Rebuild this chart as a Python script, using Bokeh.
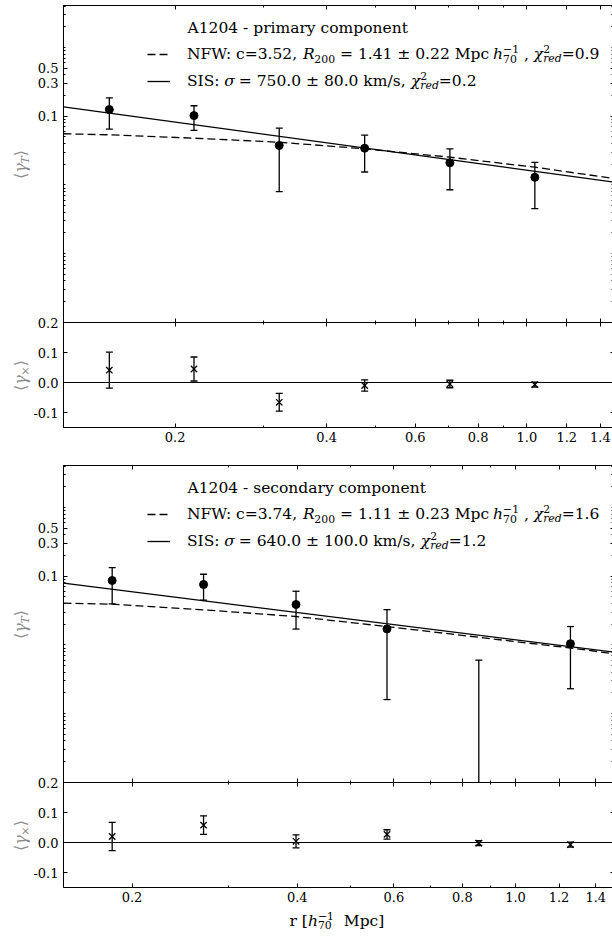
import math
from bokeh.plotting import figure
from bokeh.models import (Range1d, FixedTicker, PrintfTickFormatter, LogAxis, LinearAxis,
                          LinearScale, Label, Span, Legend, LegendItem)
from bokeh.layouts import column, row
from bokeh.embed import file_html
from bokeh.resources import INLINE

# ---------------- data ----------------
r_primary = [0.148, 0.218, 0.322, 0.476, 0.703, 1.037]
gamma_t_primary = [0.125, 0.102, 0.0375, 0.0342, 0.0210, 0.0129]
gamma_x_primary = [0.041, 0.045, -0.066, -0.010, -0.005, -0.007]
err_primary = [0.060, 0.040, 0.0295, 0.0188, 0.0125, 0.0084]

r_secondary = [0.184, 0.270, 0.398, 0.583, 0.857, 1.259]
gamma_t_secondary = [0.0866, 0.0757, 0.0387, 0.0171, -0.002, 0.0104]
gamma_x_secondary = [0.020, 0.058, 0.004, 0.027, -0.002, -0.007]
err_secondary = [0.047, 0.031, 0.0217, 0.0155, 0.0080, 0.0081]

nfw_r_primary = [0.12, 0.148, 0.218, 0.322, 0.476, 0.703, 1.037, 1.5]
nfw_primary = [0.0555, 0.0536, 0.0479, 0.0418, 0.0335, 0.0253, 0.0181, 0.0123]
sis_r_primary = [0.12, 1.5]
sis_primary = [0.1365, 0.0109]

nfw_r_secondary = [0.15, 0.184, 0.27, 0.398, 0.583, 0.857, 1.259, 1.5]
nfw_secondary = [0.0405, 0.0391, 0.0324, 0.0259, 0.0185, 0.0129, 0.0090, 0.0075]
sis_r_secondary = [0.15, 1.5]
sis_secondary = [0.0791, 0.0079]

x_major = [0.2, 0.4, 0.6, 0.8, 1.0, 1.2, 1.4]
x_minor = [0.3, 0.5, 0.7, 0.9]
yt_major = [0.1, 0.3, 0.5]
yx_major = [-0.1, 0.0, 0.1, 0.2]
T_FLOOR = 1e-4          # lower limit of the tangential-shear axis
X_LIMITS = [(0.12, 1.4794), (0.15, 1.502)]
CROSS_LIMITS = (-0.15, 0.2)

titles = ["A1204 - primary component", "A1204 - secondary component"]
nfw_c = ["3.52", "3.74"]
nfw_r200 = ["1.41", "1.11"]
nfw_r200_err = ["0.22", "0.23"]
nfw_chi2 = ["0.9", "1.6"]
sis_sigma = ["750.0", "640.0"]
sis_sigma_err = ["80.0", "100.0"]
sis_chi2 = ["0.2", "1.2"]

# ---------------- geometry / style ----------------
FONT = "DejaVu Serif"
GUTTER = 62
MAIN_W = 612 - GUTTER
FL = 63                      # page x of the frames' left edge
FRAME_H = 422                # tangential (317 px) + cross (105 px)
T_H = 317
DLOG = 68.7                  # px per decade on the tangential axis
PX_CROSS = 300.0             # px per unit on the cross axis
FS = 15.5
TICK_FS = "13px"
AX_COLOR = "#8a8a8a"

yt_minor = [k * 10.0 ** n for n in range(-4, 1) for k in range(1, 10)] + [2.0, 3.0, 4.0]
yt_minor = [v for v in yt_minor if all(abs(v - m) > 1e-9 for m in yt_major)]

EM = {' ': 0.318, '0': 0.636, '1': 0.636, '2': 0.636, '3': 0.636, '4': 0.636, '5': 0.636,
      '6': 0.636, '7': 0.636, '8': 0.636, '9': 0.636, '.': 0.318, ',': 0.318, ':': 0.337,
      '-': 0.338, '=': 0.838, '±': 0.838, '/': 0.337, '[': 0.39, ']': 0.39, '−': 0.838,
      'A': 0.722, 'C': 0.732, 'F': 0.685, 'I': 0.369, 'M': 0.954, 'N': 0.81, 'R': 0.74,
      'S': 0.674, 'W': 1.031, 'T': 0.67, 'a': 0.599, 'c': 0.563, 'd': 0.641, 'e': 0.592,
      'h': 0.646, 'i': 0.32, 'k': 0.623, 'm': 0.96, 'n': 0.646, 'o': 0.602, 'p': 0.641,
      'r': 0.479, 's': 0.516, 't': 0.402, 'y': 0.571, 'σ': 0.62, 'χ': 0.6, 'γ': 0.56,
      '⟨': 0.39, '⟩': 0.39, '×': 0.838}


def tw(s, size):
    return sum(EM.get(ch, 0.6) for ch in s) * size


def put(p, fl, fb, xp, yp, txt, size, style="normal", color="black", angle=0.0):
    p.add_layout(Label(x=xp - fl, y=fb - yp, x_units="screen", y_units="screen", text=txt,
                       text_font=FONT, text_font_size=f"{size:.2f}px", text_font_style=style,
                       text_color=color, text_align="left", text_baseline="middle",
                       angle=angle))


def chain(p, fl, fb, x0, ymid, items, size=FS):
    x = x0
    for item in items:
        adv = 0.0
        for txt, kind, style in item:
            s = size * 0.7 if kind in ("sub", "sup") else size
            dy = {"n": 0.0, "sub": 0.30 * size, "sup": -0.30 * size}[kind]
            lead = len(txt) - len(txt.lstrip(" "))
            core = txt.strip(" ")
            if core:
                put(p, fl, fb, x + lead * EM[' '] * s, ymid + dy, core, s, style)
            adv = max(adv, tw(txt, s))
        x += adv
    return x


def vchain(p, fl, fb, xmid, ycenter, items, size, color):
    total = sum(tw(t, size * 0.7 if k == "sub" else size) for t, k, _ in items)
    y = ycenter + total / 2
    for txt, kind, style in items:
        s = size * 0.7 if kind == "sub" else size
        dx = 0.30 * size if kind == "sub" else 0.0
        put(p, fl, fb, xmid + dx, y, txt, s, style, color, angle=math.pi / 2)
        y -= tw(txt, s)


def style_axis(ax, ticks, minor, labels, standoff=4, both=False, tick_in=4, minor_in=2,
               line=True):
    ax.ticker = FixedTicker(ticks=ticks, minor_ticks=minor)
    ax.major_tick_in = tick_in
    ax.major_tick_out = 4 if both else 0
    ax.minor_tick_in = minor_in
    ax.minor_tick_out = 2 if both else 0
    ax.axis_line_color = "black" if line else None
    ax.axis_line_width = 1
    ax.major_tick_line_color = "black"
    ax.minor_tick_line_color = "black"
    ax.axis_label = None
    ax.formatter = PrintfTickFormatter(format="%.1f")
    if labels:
        ax.major_label_text_font = FONT
        ax.major_label_text_font_size = TICK_FS
        ax.major_label_text_color = "black"
        ax.major_label_standoff = standoff
    else:
        ax.major_label_text_font_size = "0px"
        ax.major_label_text_color = None
        ax.major_label_standoff = 0


def bare_fig(w, h, **kw):
    f = figure(width=w, height=h, output_backend="svg", toolbar_location=None, title=None,
               x_axis_location=None, y_axis_location=None, **kw)
    f.outline_line_color = None
    f.grid.visible = False
    f.background_fill_color = "white"
    f.border_fill_color = "white"
    return f


def panel(k, frame_top, bottom_border, r, gt, gx, err, nfw_r, nfw, sis_r, sis):
    x_lo, x_hi = X_LIMITS[k]
    top_gap = 110.7  # px from the frame top down to gamma_T = 0.1
    y_range = Range1d(10 ** (-1 - (FRAME_H - top_gap) / DLOG), 10 ** (-1 + top_gap / DLOG))
    cross_range = Range1d(CROSS_LIMITS[0], CROSS_LIMITS[1] + T_H / PX_CROSS)
    height = frame_top + FRAME_H + bottom_border
    p = figure(width=MAIN_W, height=height, x_axis_type="log", y_axis_type="log",
               x_range=Range1d(x_lo, x_hi), y_range=y_range,
               output_backend="svg", toolbar_location=None, title=None,
               min_border_left=1, min_border_right=0, min_border_top=frame_top,
               min_border_bottom=bottom_border)
    p.extra_y_ranges = {"cross": cross_range}
    p.extra_y_scales = {"cross": LinearScale()}
    p.outline_line_color = None
    p.xgrid.visible = False
    p.ygrid.visible = False
    p.background_fill_color = "white"
    p.border_fill_color = "white"

    # axes (tick marks here; y tick labels are drawn in the gutter on the same ranges)
    t_minor = [v for v in yt_minor if v < y_range.end]
    style_axis(p.xaxis[0], x_major, x_minor, True, standoff=4)
    style_axis(p.yaxis[0], yt_major, t_minor, False)
    top_ax = LogAxis()
    style_axis(top_ax, x_major, x_minor, False)
    p.add_layout(top_ax, "above")
    mid_ax = LogAxis(y_range_name="cross", fixed_location=CROSS_LIMITS[1])
    style_axis(mid_ax, x_major, x_minor, False, both=True)
    p.add_layout(mid_ax, "below")
    cross_ax = LinearAxis(y_range_name="cross")
    style_axis(cross_ax, yx_major, [], False)
    p.add_layout(cross_ax, "left")
    # mirrored ticks of the (cut-off) right spine
    right_t = LogAxis()
    style_axis(right_t, yt_major, t_minor, False, tick_in=2, minor_in=1, line=False)
    p.add_layout(right_t, "right")
    right_x = LinearAxis(y_range_name="cross")
    style_axis(right_x, yx_major, [], False, tick_in=2, minor_in=1, line=False)
    p.add_layout(right_x, "right")

    fb = frame_top + FRAME_H

    # tangential shear
    nfw_line = p.line(nfw_r, nfw, line_color="black", line_width=1.3, line_dash="8 4")
    sis_line = p.line(sis_r, sis, line_color="black", line_width=1.3)
    lo = [max(v - e, T_FLOOR) for v, e in zip(gt, err)]
    hi = [v + e for v, e in zip(gt, err)]
    p.segment(x0=r, y0=lo, x1=r, y1=hi, line_color="black", line_width=1.3)
    p.scatter(r, hi, marker="dash", size=7, line_color="black", line_width=1.3)
    cap_r = [x for x, v, e in zip(r, gt, err) if v - e > T_FLOOR]
    cap_lo = [v - e for v, e in zip(gt, err) if v - e > T_FLOOR]
    p.scatter(cap_r, cap_lo, marker="dash", size=7, line_color="black", line_width=1.3)
    p.scatter(r, gt, marker="circle", size=8, fill_color="black", line_color="black")

    # cross shear
    p.add_layout(Span(location=0, dimension="width", line_color="black", line_width=1.2,
                      y_range_name="cross"))
    xlo = [v - e for v, e in zip(gx, err)]
    xhi = [v + e for v, e in zip(gx, err)]
    p.segment(x0=r, y0=xlo, x1=r, y1=xhi, line_color="black", line_width=1.3,
              y_range_name="cross")
    p.scatter(r, xhi, marker="dash", size=7, line_color="black", line_width=1.3,
              y_range_name="cross")
    p.scatter(r, xlo, marker="dash", size=7, line_color="black", line_width=1.3,
              y_range_name="cross")
    p.scatter(r, gx, marker="x", size=9, line_color="black", line_width=1.3,
              y_range_name="cross")

    # legend (handles + first words) and the rich-text continuation
    y_title = frame_top + 22
    y_nfw = frame_top + 48.5
    y_sis = y_nfw + 27
    leg_bottom = y_nfw - 10 + 47
    nfw_head = f"NFW: c={nfw_c[k]}, "
    leg = Legend(items=[LegendItem(label=nfw_head.strip(), renderers=[nfw_line]),
                        LegendItem(label="SIS:", renderers=[sis_line])],
                 location=(147 - FL, fb - leg_bottom), orientation="vertical",
                 padding=0, margin=0, spacing=7, glyph_width=23, glyph_height=20,
                 label_height=20, label_standoff=17, label_text_font=FONT,
                 label_text_font_size=f"{FS}px", label_text_color="black",
                 border_line_color=None, background_fill_alpha=0)
    p.add_layout(leg)
    x0 = 187
    put(p, FL, fb, x0, y_title, titles[k], FS)
    chain(p, FL, fb, x0 + tw(nfw_head, FS), y_nfw, [
        [("R", "n", "italic")],
        [("200", "sub", "normal")],
        [(f" = {nfw_r200[k]} ", "n", "normal")],
        [("±", "n", "normal")],
        [(f" {nfw_r200_err[k]} Mpc ", "n", "normal")],
        [("h", "n", "italic")],
        [("70", "sub", "normal"), ("−1", "sup", "normal")],
        [(" , ", "n", "normal")],
        [("χ", "n", "italic")],
        [("2", "sup", "normal"), ("red", "sub", "italic")],
        [(f"={nfw_chi2[k]}", "n", "normal")],
    ])
    chain(p, FL, fb, x0 + tw("SIS: ", FS), y_sis, [
        [("σ", "n", "italic")],
        [(f" = {sis_sigma[k]} ", "n", "normal")],
        [("±", "n", "normal")],
        [(f" {sis_sigma_err[k]} km/s, ", "n", "normal")],
        [("χ", "n", "italic")],
        [("2", "sup", "normal"), ("red", "sub", "italic")],
        [(f"={sis_chi2[k]}", "n", "normal")],
    ])

    # gutter on the left: y tick labels (same ranges and scales) and y-axis titles
    g = bare_fig(GUTTER, height, y_axis_type="log", x_range=Range1d(0, 1), y_range=y_range,
                 min_border_left=0, min_border_right=0, min_border_top=frame_top,
                 min_border_bottom=bottom_border)
    g.extra_y_ranges = {"cross": cross_range}
    g.extra_y_scales = {"cross": LinearScale()}
    for v in yt_major:
        g.add_layout(Label(x=GUTTER - 4, y=v, x_units="screen", y_units="data",
                           text=f"{v:.1f}", text_font=FONT, text_font_size=TICK_FS,
                           text_color="black", text_align="right", text_baseline="middle"))
    for v in yx_major:
        g.add_layout(Label(x=GUTTER - 4, y=v, x_units="screen", y_units="data",
                           y_range_name="cross", text=f"{v:.1f}", text_font=FONT,
                           text_font_size=TICK_FS, text_color="black", text_align="right",
                           text_baseline="middle"))
    vchain(g, 0, fb, 20, frame_top + 159,
           [("⟨", "n", "normal"), ("γ", "n", "italic"), ("T", "sub", "italic"),
            ("⟩", "n", "normal")], 16, AX_COLOR)
    vchain(g, 0, fb, 20, frame_top + 370,
           [("⟨", "n", "normal"), ("γ", "n", "italic"), ("×", "sub", "normal"),
            ("⟩", "n", "normal")], 16, AX_COLOR)
    return row(g, p, spacing=0)


rowAB = panel(0, 5, 38, r_primary, gamma_t_primary, gamma_x_primary, err_primary,
              nfw_r_primary, nfw_primary, sis_r_primary, sis_primary)
rowCD = panel(1, 0, 20, r_secondary, gamma_t_secondary, gamma_x_secondary, err_secondary,
              nfw_r_secondary, nfw_secondary, sis_r_secondary, sis_secondary)

# x-axis title strip under the lower panel
XL_H = 936 - (5 + FRAME_H + 38) - (FRAME_H + 20)
pXL = bare_fig(612, XL_H, x_range=Range1d(0, 1), y_range=Range1d(0, 1), min_border=0)
xl_top = 936 - XL_H
chain(pXL, 0, 936, 289, xl_top + 13, [
    [("r [", "n", "normal")],
    [("h", "n", "italic")],
    [("70", "sub", "normal"), ("−1", "sup", "normal")],
    [("  Mpc]", "n", "normal")],
])

layout = column(rowAB, rowCD, pXL, spacing=0)
open("out.html", "w").write(file_html(layout, INLINE))
